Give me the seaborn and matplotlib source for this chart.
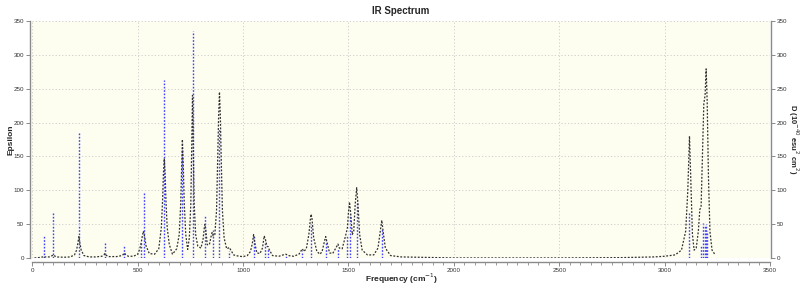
import numpy as np
import pandas as pd
import matplotlib
matplotlib.use("Agg")
import matplotlib.pyplot as plt
from matplotlib.ticker import MultipleLocator
import seaborn as sns

# Broadened spectrum (Epsilon)
curve_freq = [10, 30, 50, 54, 58, 80, 95, 98, 102, 115, 150, 180, 200, 210, 216, 221, 226, 232,
              245, 270, 300, 330, 340, 344, 348, 360, 400, 425, 433, 437, 441, 455, 480, 500,
              510, 516, 522, 527, 532, 540, 555, 580, 600, 612, 618, 622, 626, 630, 634, 640,
              650, 665, 685, 697, 704, 709, 712, 716, 721, 728, 737, 745, 752, 756, 760, 764,
              768, 775, 785, 800, 810, 816, 819, 823, 830, 840, 848, 853, 858, 866, 874, 880,
              884, 888, 892, 896, 902, 910, 922, 930, 935, 940, 955, 980, 1000, 1020, 1035,
              1044, 1050, 1056, 1065, 1080, 1092, 1100, 1106, 1113, 1119, 1125, 1140, 1170,
              1190, 1203, 1215, 1240, 1265, 1275, 1281, 1288, 1300, 1312, 1320, 1323, 1327,
              1335, 1350, 1365, 1375, 1386, 1392, 1398, 1410, 1425, 1440, 1450, 1457, 1470,
              1482, 1490, 1495, 1500, 1505, 1510, 1518, 1525, 1532, 1539, 1545, 1553, 1565,
              1590, 1620, 1640, 1650, 1658, 1665, 1675, 1700, 1750, 2000, 2500, 2800, 2950,
              3000, 3050, 3080, 3100, 3110, 3118, 3125, 3132, 3140, 3150, 3160, 3167, 3173,
              3180, 3186, 3192, 3197, 3202, 3208, 3215, 3225, 3240]
curve_eps = [0.5, 1, 2, 3, 2, 2, 4, 5, 4, 2, 1.5, 2, 5, 12, 22, 32, 22, 12,
             4, 2, 2, 3, 5, 7, 5, 2.5, 2.5, 4, 6, 8, 6, 3, 3, 6,
             14, 22, 33, 40, 33, 18, 7, 6, 14, 45, 85, 125, 147, 125, 85, 45,
             20, 6, 14, 35, 80, 140, 175, 140, 80, 35, 13, 30, 80, 160, 240, 160,
             80, 35, 18, 15, 28, 45, 50, 42, 20, 20, 32, 38, 33, 35, 70, 150,
             210, 245, 210, 150, 70, 30, 14, 15, 16, 13, 5, 3, 2.5, 4, 10,
             22, 35, 22, 8, 7, 15, 33, 28, 18, 17, 12, 4, 3,
             5, 6, 4, 3, 6, 11, 14, 10, 14, 35, 60, 65, 58,
             30, 10, 6, 10, 25, 32, 24, 8, 7, 15, 21, 15, 14,
             28, 38, 45, 68, 83, 68, 35, 40, 80, 104, 80, 35, 12,
             5, 5, 15, 38, 56, 38, 15, 4, 2, 0.5, 0.5, 1, 2,
             3, 5, 12, 40, 100, 180, 110, 35, 12, 15, 40, 72, 75,
             160, 228, 240, 279, 230, 120, 40, 12, 5]

# Stick intensities (D)
stick_freq = [54, 98, 221, 343, 437, 516, 530, 627, 712, 760, 820, 857, 888, 935, 1052,
              1102, 1117, 1203, 1281, 1323, 1393, 1450, 1493, 1505, 1539, 1659,
              3118, 3172, 3183, 3190, 3196, 3202]
stick_D = [35, 67, 184, 24, 19, 22, 97, 262, 160, 335, 64, 42, 190, 10, 35,
           25, 13, 5, 10, 50, 25, 15, 35, 65, 85, 45,
           66, 18, 52, 48, 50, 40]

title = "IR Spectrum"
xlabel = "Frequency (cm$^{-1}$)"
ylabel_left = "Epsilon"
ylabel_right = "D (10$^{-40}$ esu$^{2}$ cm$^{2}$)"

sns.set_theme(style="white")
plt.rcParams['font.family'] = ['Liberation Sans', 'DejaVu Sans']

fig = plt.figure(figsize=(8, 2.86), dpi=100)
ax = fig.add_axes([0.0404, 0.0969, 0.9221, 0.8307])
ax2 = ax.twinx()

bg = '#fdfdf0'
ax2.patch.set_visible(True)
ax2.set_facecolor(bg)
ax.patch.set_visible(False)
ax.set_zorder(ax2.get_zorder() + 1)

sticks = pd.DataFrame({"freq": stick_freq, "D": stick_D})
ax2.vlines(sticks["freq"], 0, sticks["D"], colors='#4040ff',
           linestyles=(0, (1.2, 1.2)), linewidth=1.0)

spec = pd.DataFrame({"freq": curve_freq, "eps": curve_eps})
sns.lineplot(data=spec, x="freq", y="eps", ax=ax, color='#303030',
             linewidth=0.9, linestyle=(0, (1.5, 1.3)), sort=False)

for a in (ax, ax2):
    a.set_xlim(0, 3500)
    a.set_ylim(0, 350)

ax.xaxis.set_major_locator(MultipleLocator(500))
ax.xaxis.set_minor_locator(MultipleLocator(50))
ax.yaxis.set_major_locator(MultipleLocator(50))
ax2.yaxis.set_major_locator(MultipleLocator(50))

grid_kw = dict(color='#cfcfcf', linestyle=(0, (1.2, 2.2)), linewidth=0.7)
ax2.grid(False)
ax.grid(True, which='major', **grid_kw)
ax.set_axisbelow(True)

spine_col = '#8a8a8a'
for a in (ax, ax2):
    for s in a.spines.values():
        s.set_visible(False)
ax.spines['left'].set_visible(True)
ax.spines['bottom'].set_visible(True)
ax2.spines['right'].set_visible(True)
ax.spines['left'].set_position(('outward', 2))
ax.spines['bottom'].set_position(('outward', 3))
ax2.spines['right'].set_position(('outward', 1))
for s in (ax.spines['left'], ax.spines['bottom'], ax2.spines['right']):
    s.set_color(spine_col)
    s.set_linewidth(1.0)

ax.tick_params(axis='both', which='major', direction='out', length=3, width=0.7,
               color=spine_col, labelsize=4.5, labelcolor='#333333', pad=1,
               left=True, bottom=True)
ax.tick_params(axis='x', which='minor', direction='out', length=2, width=0.6,
               color=spine_col, bottom=True)
ax2.tick_params(axis='y', which='major', direction='out', length=3, width=0.7,
                color=spine_col, labelsize=4.5, labelcolor='#333333', pad=1,
                right=True)

ax.set_title(title, fontsize=7, fontweight='bold', pad=5)
ax.set_xlabel(xlabel, fontsize=6, fontweight='bold', va='center')
ax.xaxis.set_label_coords(0.5, -0.085)
ax.set_ylabel(ylabel_left, fontsize=6, fontweight='bold', va='center')
ax.yaxis.set_label_coords(-0.029, 0.5)
ax2.set_ylabel(ylabel_right, fontsize=5.5, fontweight='bold', rotation=270, va='center')
ax2.yaxis.set_label_coords(1.0315, 0.5)

fig.savefig("out.png", dpi=100, facecolor='white')
